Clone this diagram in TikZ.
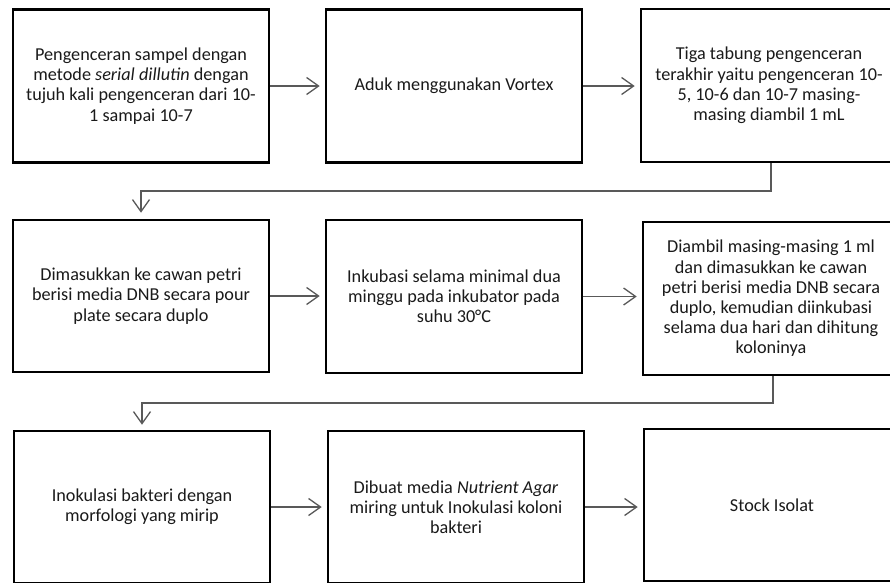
\documentclass[tikz,border=0pt]{standalone}
\usepackage{fontspec}
\setmainfont{Carlito}
\usetikzlibrary{arrows.meta}
\definecolor{txt}{HTML}{1A1A1A}
\definecolor{conn}{HTML}{595959}
\tikzset{
  box/.style={draw=black, line width=2.6pt, rectangle, minimum width=256pt,
    minimum height=153pt, inner sep=0pt, align=center, text=txt,
    font=\fontsize{18.2}{20.2}\selectfont},
  conn/.style={draw=conn, line width=1.3pt,
    -{Straight Barb[length=12pt,width=17pt,line width=1.3pt]}},
}
\begin{document}
\begin{tikzpicture}[x=1pt,y=-1pt]
\useasboundingbox (0,0) rectangle (890,582);
\clip (0,0) rectangle (890,582);
\fill[white] (0,0) rectangle (890,582);
\node[box] (b1) at (141,86) {Pengenceran sampel dengan\\metode \textit{serial dillutin} dengan\\tujuh kali pengenceran dari 10-\\1 sampai 10-7};
\node[box] (b2) at (454,86) {Aduk menggunakan Vortex};
\node[box] (b3) at (769,85.5) {Tiga tabung pengenceran\\terakhir yaitu pengenceran 10-\\5, 10-6 dan 10-7 masing-\\masing diambil 1 mL};
\node[box, minimum height=152pt] (b4) at (141,296) {Dimasukkan ke cawan petri\\berisi media DNB secara pour\\plate secara duplo};
\node[box] (b5) at (454,296.5) {Inkubasi selama minimal dua\\minggu pada inkubator pada\\suhu 30°C};
\node[box] (b6) at (771,298.5) {Diambil masing-masing 1 ml\\dan dimasukkan ke cawan\\petri berisi media DNB secara\\duplo, kemudian diinkubasi\\selama dua hari dan dihitung\\koloninya};
\node[box, minimum height=152pt] (b7) at (142,507) {Inokulasi bakteri dengan\\morfologi yang mirip};
\node[box, minimum height=152pt] (b8) at (456,507) {Dibuat media \textit{Nutrient Agar}\\miring untuk Inokulasi koloni\\bakteri};
\node[box, minimum height=152pt] (b9) at (772,505) {Stock Isolat};
\draw[conn, shorten >=5pt] (b1.east) -- (b1.east -| b2.west);
\draw[conn, shorten >=5pt] (b2.east) -- (b2.east -| b3.west);
\draw[conn, shorten >=5pt] (b4.east) -- (b4.east -| b5.west);
\draw[conn, shorten >=5pt] (b5.east) -- (b5.east -| b6.west);
\draw[conn, shorten >=5pt] (b7.east) -- (b7.east -| b8.west);
\draw[conn, shorten >=5pt] (b8.east) -- (b8.east -| b9.west);
\coordinate (e1) at (771,191);
\coordinate (e2) at (773,403);
\draw[conn, shorten >=6pt] (b3.south -| e1) -- (e1) -| (b4.north);
\draw[conn, shorten >=5pt] (b6.south -| e2) -- (e2) -| (b7.north);
\end{tikzpicture}
\end{document}
